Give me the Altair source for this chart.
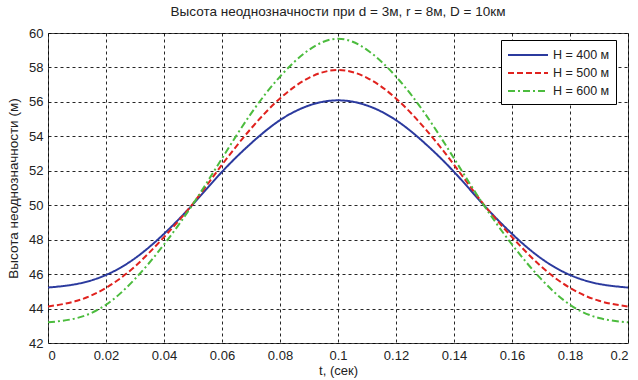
import altair as alt
import pandas as pd

t_values = [0.0, 0.01, 0.02, 0.03, 0.04, 0.05, 0.06, 0.07, 0.08, 0.09, 0.10,
            0.11, 0.12, 0.13, 0.14, 0.15, 0.16, 0.17, 0.18, 0.19, 0.20]

h400 = [45.22, 45.43, 45.95, 46.92, 48.34, 50.06, 51.94, 53.59, 54.94, 55.79, 56.09,
        55.79, 54.94, 53.59, 51.94, 50.06, 48.34, 46.92, 45.95, 45.43, 45.22]
h500 = [44.12, 44.45, 45.20, 46.45, 48.15, 50.10, 52.35, 54.45, 56.20, 57.40, 57.85,
        57.40, 56.20, 54.45, 52.35, 50.10, 48.15, 46.45, 45.20, 44.45, 44.12]
h600 = [43.20, 43.45, 44.22, 45.72, 47.72, 50.07, 52.72, 55.32, 57.47, 59.02, 59.67,
        59.02, 57.47, 55.32, 52.72, 50.07, 47.72, 45.72, 44.22, 43.45, 43.20]

series_names = ["H = 400 м", "H = 500 м", "H = 600 м"]
series_colors = ["#2b3a9e", "#e0221e", "#4cbc3e"]
series_dashes = [[1, 0], [6, 3], [7, 3, 2, 3]]

x_ticks = [0, 0.02, 0.04, 0.06, 0.08, 0.1, 0.12, 0.14, 0.16, 0.18, 0.2]
y_ticks = [42, 44, 46, 48, 50, 52, 54, 56, 58, 60]

rows = []
for name, vals in zip(series_names, [h400, h500, h600]):
    for t, v in zip(t_values, vals):
        rows.append({"t": t, "value": v, "series": name})
df = pd.DataFrame(rows)

font = "Liberation Sans"

chart = alt.Chart(df).mark_line(interpolate="natural", strokeWidth=2).encode(
    x=alt.X("t:Q",
            scale=alt.Scale(domain=[0, 0.2], nice=False, zero=False),
            axis=alt.Axis(values=x_ticks, format="~g", title="t, (сек)",
                          grid=True, gridDash=[3, 3], gridColor="#000", gridOpacity=0.85,
                          tickSize=0, labelPadding=6, domain=False,
                          labelFontSize=13, labelColor="#222", labelFont=font,
                          titleFontSize=13, titleFontWeight="normal", titleFont=font,
                          titleColor="#222", titlePadding=2)),
    y=alt.Y("value:Q",
            scale=alt.Scale(domain=[42, 60], nice=False, zero=False),
            axis=alt.Axis(values=y_ticks, title="Высота неоднозначности (м)",
                          grid=True, gridDash=[3, 3], gridColor="#000", gridOpacity=0.85,
                          tickSize=0, labelPadding=5, domain=False,
                          labelFontSize=13, labelColor="#222", labelFont=font,
                          titleFontSize=13.5, titleFontWeight="normal", titleFont=font,
                          titleColor="#222", titlePadding=8)),
    color=alt.Color("series:N",
                    scale=alt.Scale(domain=series_names, range=series_colors),
                    legend=alt.Legend(title=None, orient="none", legendX=453, legendY=7,
                                      symbolType="M-2.5,0L2.5,0", symbolSize=256,
                                      symbolOffset=12, symbolStrokeWidth=2,
                                      labelFontSize=12.5, labelOffset=16,
                                      labelFont=font, labelColor="#222",
                                      strokeColor="#000", fillColor="white",
                                      padding=6, rowPadding=2)),
    strokeDash=alt.StrokeDash("series:N",
                              scale=alt.Scale(domain=series_names, range=series_dashes),
                              legend=None),
).properties(
    width=580,
    height=310,
    title=alt.TitleParams("Высота неоднозначности при d = 3м, r = 8м, D = 10км",
                          fontSize=13.5, fontWeight="normal", font=font, color="#222",
                          anchor="middle", offset=9),
    autosize=alt.AutoSizeParams(type="none"),
    padding={"left": 48, "top": 33, "right": 10, "bottom": 37},
).configure_view(stroke="#444", strokeWidth=1)

chart.save("out.html", embed_options={"renderer": "svg", "actions": False})
